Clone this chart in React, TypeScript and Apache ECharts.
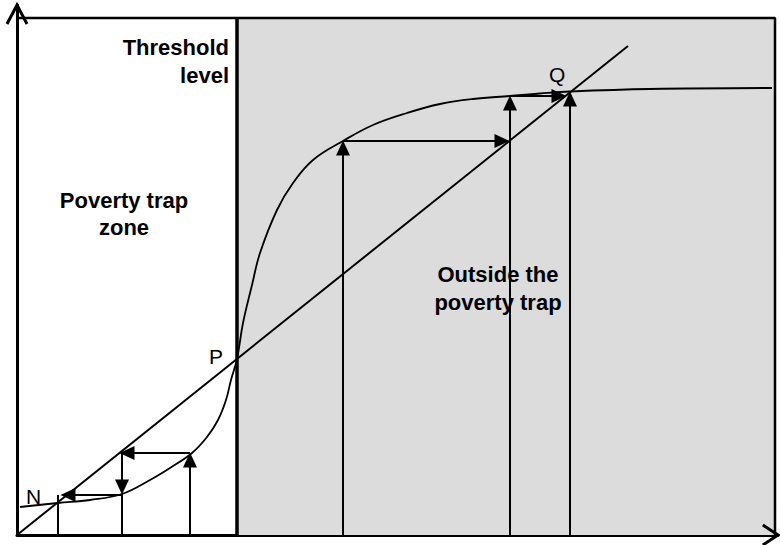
import React, { useEffect, useRef } from "react";
import * as echarts from "echarts";

// Schematic units (origin at the axes corner)
const axisMaxX = 761;
const axisMaxY = 530;
const thresholdX = 220;
const frameTop = 517;
const frameRight = 758;
const diagonalStart = [0, 0];
const diagonalEnd = [611, 489];

// S-shaped curve
const curveX = [3, 41, 73, 105, 133, 153, 175, 190, 201, 209, 214, 220, 226, 235, 243, 260, 276, 296, 326, 356, 390, 423, 456, 493, 523, 553, 633, 755];
const curveY = [28, 32, 35, 41, 55, 67, 82, 98, 115, 135, 155, 176, 212, 250, 282, 325, 352, 375, 394, 410, 422, 431, 436, 439, 441.5, 443.5, 446, 447];

// Arrows: [x1, y1, x2, y2], head at (x2, y2)
const arrowSegments = [
  [173, 0, 173, 82],
  [173, 82, 103, 82],
  [105, 82, 105, 41],
  [105, 40, 44, 40],
  [326, 0, 326, 394],
  [326, 394, 492, 394],
  [493, 0, 493, 439],
  [493, 439, 549, 439],
  [553, 0, 553, 443],
];
// Plain guide lines
const guideSegments = [
  [41, 0, 41, 40],
  [105, 0, 105, 41],
];

const boldLabels = ["Threshold", "level", "Poverty trap", "zone", "Outside the", "poverty trap"];
const pointLabels = ["P", "Q", "N"];

const FONT = "'Liberation Sans', Arial, Helvetica, sans-serif";
const chevronHalf = 10;
const chevronLen = 19;

function shorten(seg: number[], by: number) {
  const [x1, y1, x2, y2] = seg;
  const dx = x2 - x1;
  const dy = y2 - y1;
  const len = Math.sqrt(dx * dx + dy * dy);
  return [x1, y1, x2 - (by * dx) / len, y2 - (by * dy) / len];
}

export default function App() {
  const ref = useRef<HTMLDivElement>(null);
  useEffect(() => {
    if (!ref.current) return;
    const chart = echarts.init(ref.current, null, { renderer: "svg" });
    const black = "#000";
    const curveData = curveX.map((x, i) => [x, curveY[i]]);
    const axisStyle = {
      axisLine: { show: true, lineStyle: { color: black, width: 3 } },
      axisTick: { show: false },
      axisLabel: { show: false },
      splitLine: { show: false },
    };
    const text = (t: string, x: number, y: number, align: string, font: string) => ({
      type: "text",
      z: 10,
      style: { text: t, x, y, align, verticalAlign: "middle", font, fill: black },
    });
    const bold = `bold 22px ${FONT}`;
    const reg = `21px ${FONT}`;
    const option: any = {
      animation: false,
      backgroundColor: "#fff",
      grid: { left: 17, right: 2, top: 5, bottom: 10 },
      xAxis: { type: "value", min: 0, max: axisMaxX, ...axisStyle },
      yAxis: { type: "value", min: 0, max: axisMaxY, ...axisStyle },
      series: [
        {
          type: "line",
          z: 1,
          data: [],
          markArea: {
            silent: true,
            itemStyle: { color: "#dcdcdc" },
            data: [[{ coord: [thresholdX, 0] }, { coord: [frameRight, frameTop] }]],
          },
        },
        {
          type: "line",
          z: 3,
          showSymbol: false,
          lineStyle: { color: black, width: 2.5 },
          data: [
            [0, frameTop],
            [frameRight, frameTop],
            [frameRight, 0],
          ],
        },
        {
          type: "line",
          z: 4,
          showSymbol: false,
          lineStyle: { color: black, width: 3.5 },
          data: [
            [thresholdX, 0],
            [thresholdX, frameTop],
          ],
        },
        {
          type: "line",
          z: 4,
          showSymbol: false,
          lineStyle: { color: black, width: 2 },
          data: [diagonalStart, diagonalEnd],
        },
        {
          type: "line",
          z: 4,
          showSymbol: false,
          smooth: 0.4,
          lineStyle: { color: black, width: 1.8 },
          data: curveData,
        },
        {
          type: "line",
          z: 4,
          data: [],
          markLine: {
            silent: true,
            symbol: ["none", "none"],
            label: { show: false },
            lineStyle: { color: black, width: 2, type: "solid" },
            data: guideSegments.map((s) => [{ coord: [s[0], s[1]] }, { coord: [s[2], s[3]] }]),
          },
        },
        {
          type: "line",
          z: 5,
          data: [],
          markLine: {
            silent: true,
            symbol: ["none", "triangle"],
            symbolSize: [14, 15],
            label: { show: false },
            lineStyle: { color: black, width: 2, type: "solid" },
            itemStyle: { color: black },
            data: arrowSegments.map((seg) => {
              const s = shorten(seg, 7);
              return [{ coord: [s[0], s[1]] }, { coord: [s[2], s[3]] }];
            }),
          },
        },
      ],
      graphic: [
        text(boldLabels[0], 229, 47, "right", bold),
        text(boldLabels[1], 229, 75, "right", bold),
        text(boldLabels[2], 124, 200, "center", bold),
        text(boldLabels[3], 124, 227, "center", bold),
        text(boldLabels[4], 498, 274, "center", bold),
        text(boldLabels[5], 498, 302, "center", bold),
        text(pointLabels[0], 209, 356, "left", reg),
        text(pointLabels[1], 549, 74, "left", reg),
        text(pointLabels[2], 26, 496, "left", reg),
      ],
    };
    chart.setOption(option);

    // Open chevron arrowheads at the axis ends, placed from the axes' own scale
    const yTip = chart.convertToPixel({ gridIndex: 0 }, [0, axisMaxY]) as number[];
    const xTip = chart.convertToPixel({ gridIndex: 0 }, [axisMaxX, 0]) as number[];
    chart.setOption({
      graphic: [
        ...option.graphic,
        {
          type: "polyline",
          z: 12,
          shape: {
            points: [
              [yTip[0] - chevronHalf, yTip[1] + chevronLen],
              [yTip[0], yTip[1]],
              [yTip[0] + chevronHalf, yTip[1] + chevronLen],
            ],
          },
          style: { stroke: black, lineWidth: 3, fill: "none", lineJoin: "miter" },
        },
        {
          type: "polyline",
          z: 12,
          shape: {
            points: [
              [xTip[0] - chevronLen * 0.8, xTip[1] - chevronHalf],
              [xTip[0], xTip[1]],
              [xTip[0] - chevronLen * 0.8, xTip[1] + chevronHalf],
            ],
          },
          style: { stroke: black, lineWidth: 3, fill: "none", lineJoin: "miter" },
        },
      ],
    });
    return () => chart.dispose();
  }, []);
  return <div ref={ref} style={{ position: "fixed", left: 0, top: 0, width: 780, height: 545 }} />;
}
